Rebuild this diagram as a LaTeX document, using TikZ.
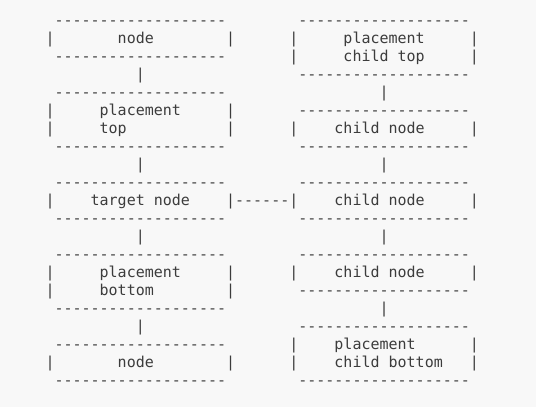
\documentclass[tikz,border=0pt]{standalone}
\usepackage{fontspec}
\setmonofont{DejaVu Sans Mono}
\definecolor{bg}{HTML}{F8F8F8}
\definecolor{ink}{HTML}{3C3C3C}
\tikzset{asc/.style={anchor=base west, inner sep=0pt, outer sep=0pt,
  font=\ttfamily\fontsize{15}{18}\selectfont, text=ink}}
\newcommand\tx[4]{\node[asc] (#1) at ({45.5+9.03*#2},{25.3+18*(#3-1)}) {#4};}
\newcommand\vb[3]{\tx{#1}{#2}{#3}{|}}
\newcommand\dsh[3]{\tx{#1}{#2}{#3}{-------------------}}
\begin{document}
\begin{tikzpicture}[x=1pt,y=-1pt]
\fill[bg] (0,0) rectangle (536,407);
\useasboundingbox (0,0) rectangle (536,407);
% row 1
\dsh{nAt}{1}{1} \dsh{pctT}{28}{1}
% row 2
\vb{nAl}{0}{2} \tx{nAtext}{8}{2}{node} \vb{nAr}{20}{2}
\vb{pctl1}{27}{2} \tx{pcttext1}{33}{2}{placement} \vb{pctr1}{47}{2}
% row 3
\dsh{nAb}{1}{3}
\vb{pctl2}{27}{3} \tx{pcttext2}{33}{3}{child top} \vb{pctr2}{47}{3}
% row 4
\vb{c1}{10}{4} \dsh{pctB}{28}{4}
% row 5
\dsh{ptT}{1}{5} \vb{c5}{37}{5}
% row 6
\vb{ptl1}{0}{6} \tx{pttext1}{6}{6}{placement} \vb{ptr1}{20}{6}
\dsh{cn1T}{28}{6}
% row 7
\vb{ptl2}{0}{7} \tx{pttext2}{6}{7}{top} \vb{ptr2}{20}{7}
\vb{cn1l}{27}{7} \tx{cn1text}{32}{7}{child node} \vb{cn1r}{47}{7}
% row 8
\dsh{ptB}{1}{8} \dsh{cn1B}{28}{8}
% row 9
\vb{c2}{10}{9} \vb{c6}{37}{9}
% row 10
\dsh{tnT}{1}{10} \dsh{cn2T}{28}{10}
% row 11
\vb{tnl}{0}{11} \tx{tntext}{5}{11}{target node} \vb{tnr}{20}{11}
\tx{link}{21}{11}{------}
\vb{cn2l}{27}{11} \tx{cn2text}{32}{11}{child node} \vb{cn2r}{47}{11}
% row 12
\dsh{tnB}{1}{12} \dsh{cn2B}{28}{12}
% row 13
\vb{c3}{10}{13} \vb{c7}{37}{13}
% row 14
\dsh{pbT}{1}{14} \dsh{cn3T}{28}{14}
% row 15
\vb{pbl1}{0}{15} \tx{pbtext1}{6}{15}{placement} \vb{pbr1}{20}{15}
\vb{cn3l}{27}{15} \tx{cn3text}{32}{15}{child node} \vb{cn3r}{47}{15}
% row 16
\vb{pbl2}{0}{16} \tx{pbtext2}{6}{16}{bottom} \vb{pbr2}{20}{16}
\dsh{cn3B}{28}{16}
% row 17
\dsh{pbB}{1}{17} \vb{c8}{37}{17}
% row 18
\vb{c4}{10}{18} \dsh{pcbT}{28}{18}
% row 19
\dsh{nBt}{1}{19}
\vb{pcbl1}{27}{19} \tx{pcbtext1}{32}{19}{placement} \vb{pcbr1}{47}{19}
% row 20
\vb{nBl}{0}{20} \tx{nBtext}{8}{20}{node} \vb{nBr}{20}{20}
\vb{pcbl2}{27}{20} \tx{pcbtext2}{32}{20}{child bottom} \vb{pcbr2}{47}{20}
% row 21
\dsh{nBb}{1}{21} \dsh{pcbB}{28}{21}
\end{tikzpicture}
\end{document}
